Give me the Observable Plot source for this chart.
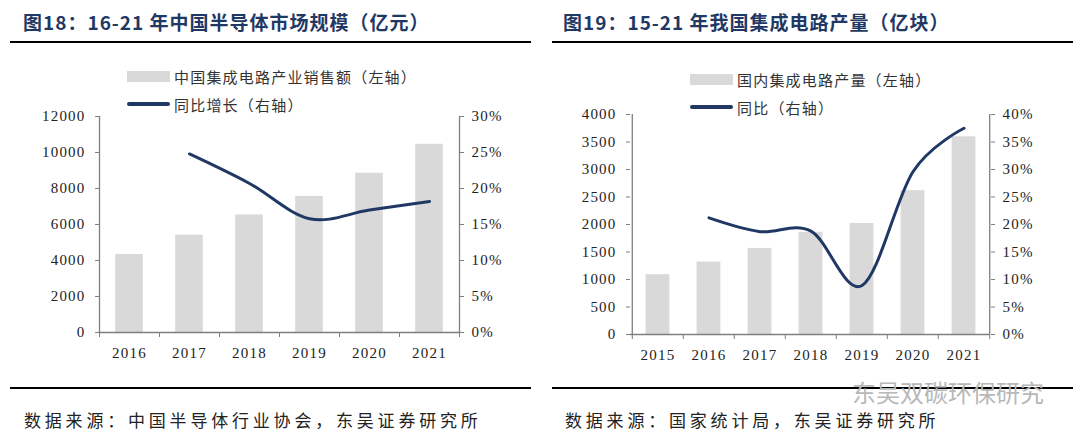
<!DOCTYPE html>
<html><head><meta charset="utf-8">
<script src="https://cdn.jsdelivr.net/npm/d3@7"></script>
<script src="https://cdn.jsdelivr.net/npm/@observablehq/plot@0.6"></script>
<style>
body{margin:0;background:#fff;}
#wrap{position:relative;width:1080px;height:441px;overflow:hidden;font-family:"Noto Sans CJK SC",sans-serif;}
.title{position:absolute;top:8px;font-size:19px;font-weight:bold;color:#1f3864;letter-spacing:1px;white-space:nowrap;}
.rule{position:absolute;height:2px;background:#000;width:521px;}
.legend{position:absolute;top:62px;font-size:15px;color:#333;letter-spacing:1.2px;white-space:nowrap;}
.legend .row{display:flex;align-items:center;height:28px;}
.sw-bar{width:43px;height:11px;background:#d9d9d9;margin-right:4px;}
.sw-line{width:43px;height:4px;background:#1f3864;border-radius:2px;margin-right:4px;}
.chart{position:absolute;top:100px;}
.chart svg, .chart svg text{font-family:"Liberation Serif","Times New Roman",serif !important;font-size:15px !important;}
.chart svg text{letter-spacing:1.2px;}
.footer{position:absolute;top:407px;font-size:17px;letter-spacing:3.8px;color:#222;white-space:nowrap;}
.wm{position:absolute;left:852px;top:374px;font-size:24px;color:#b8b8b8;white-space:nowrap;}
</style></head>
<body>
<div id="wrap">
  <div class="title" style="left:23px">图18：16-21 年中国半导体市场规模（亿元）</div>
  <div class="rule" style="left:10px;top:41px"></div>
  <div class="title" style="left:563px">图19：15-21 年我国集成电路产量（亿块）</div>
  <div class="rule" style="left:552px;top:41px"></div>
  <div class="legend" style="left:127px">
    <div class="row"><div class="sw-bar"></div><span id="lg1a"></span></div>
    <div class="row"><div class="sw-line"></div><span id="lg1b"></span></div>
  </div>
  <div class="legend" style="left:690px;top:65px">
    <div class="row"><div class="sw-bar"></div><span id="lg2a"></span></div>
    <div class="row"><div class="sw-line"></div><span id="lg2b"></span></div>
  </div>
  <div class="chart" id="c1" style="left:0px"></div>
  <div class="chart" id="c2" style="left:540px"></div>
  <div class="rule" style="left:10px;top:387px"></div>
  <div class="rule" style="left:552px;top:387px"></div>
  <div class="footer" style="left:24px">数据来源：中国半导体行业协会，东吴证券研究所</div>
  <div class="footer" style="left:565px">数据来源：国家统计局，东吴证券研究所</div>
  <div class="wm">东吴双碳环保研究</div>
</div>
<script>
// Chart 1: China semiconductor market size
const years1 = ["2016","2017","2018","2019","2020","2021"];
const sales1 = [4336, 5411, 6532, 7562, 8848, 10458];
const growth1 = [null, 24.8, 20.7, 15.8, 17.0, 18.2];
const yTicks1 = [0, 2000, 4000, 6000, 8000, 10000, 12000];
const pctTicks1 = [0, 5, 10, 15, 20, 25, 30];
const legend1 = ["中国集成电路产业销售额（左轴）", "同比增长（右轴）"];

// Chart 2: China IC output
const years2 = ["2015","2016","2017","2018","2019","2020","2021"];
const output2 = [1087, 1318, 1565, 1858, 2018, 2615, 3594];
const growth2 = [null, 21.2, 18.7, 18.8, 8.9, 29.6, 37.5];
const yTicks2 = [0, 500, 1000, 1500, 2000, 2500, 3000, 3500, 4000];
const pctTicks2 = [0, 5, 10, 15, 20, 25, 30, 35, 40];
const legend2 = ["国内集成电路产量（左轴）", "同比（右轴）"];

document.getElementById("lg1a").textContent = legend1[0];
document.getElementById("lg1b").textContent = legend1[1];
document.getElementById("lg2a").textContent = legend2[0];
document.getElementById("lg2b").textContent = legend2[1];

const GRAY = "#7f7f7f";

function makeChart({years, values, growth, yTicks, pctTicks, marginLeft, marginRight, marginTop, marginBottom, insetFrac}) {
  const W = 540, H = 270;
  const yMax = yTicks[yTicks.length - 1];
  const pMax = pctTicks[pctTicks.length - 1];
  const k = yMax / pMax;
  const bw = (W - marginLeft - marginRight) / years.length;
  const bars = years.map((y, i) => ({year: y, value: values[i]}));
  const line = years.map((y, i) => ({year: y, g: growth[i]})).filter(d => d.g != null);
  const first = years[0], last = years[years.length - 1];
  return Plot.plot({
    width: W, height: H, marginLeft, marginRight, marginTop, marginBottom,
    style: {fontFamily: "'Liberation Serif', serif", fontSize: "15px", color: "#222", background: "transparent"},
    x: {type: "band", domain: years, padding: 0, label: null},
    y: {domain: [0, yMax], label: null},
    marks: [
      Plot.barY(bars, {x: "year", y: "value", fill: "#d9d9d9", insetLeft: bw * insetFrac, insetRight: bw * insetFrac}),
      Plot.ruleY([0], {stroke: GRAY, strokeWidth: 1.3}),
      Plot.ruleX(years, {x: d => d, y1: 0, y2: 0, insetBottom: -5, dx: -bw / 2, stroke: GRAY}),
      Plot.ruleX([last], {x: d => d, y1: 0, y2: 0, insetBottom: -5, dx: bw / 2, stroke: GRAY}),
      Plot.ruleX([first], {x: d => d, y1: 0, y2: yMax, dx: -bw / 2, stroke: GRAY, strokeWidth: 1.3}),
      Plot.ruleX([last], {x: d => d, y1: 0, y2: yMax, dx: bw / 2, stroke: GRAY, strokeWidth: 1.3}),
      Plot.axisY({ticks: yTicks, anchor: "left", tickSize: 4, tickPadding: 10, stroke: GRAY, label: null,
                  tickFormat: d => String(d)}),
      Plot.axisY({ticks: pctTicks.map(v => v * k), anchor: "right", tickSize: 4, tickPadding: 8, stroke: GRAY, label: null,
                  tickFormat: d => Math.round(d / k) + "%"}),
      Plot.axisX({tickSize: 0, tickPadding: 15, label: null}),
      Plot.line(line, {x: "year", y: d => d.g * k, stroke: "#1f3864", strokeWidth: 3, curve: "cardinal"})
    ]
  });
}

document.getElementById("c1").append(makeChart({
  years: years1, values: sales1, growth: growth1, yTicks: yTicks1, pctTicks: pctTicks1,
  marginLeft: 99, marginRight: 81, marginTop: 16, marginBottom: 38, insetFrac: 0.27
}));
document.getElementById("c2").append(makeChart({
  years: years2, values: output2, growth: growth2, yTicks: yTicks2, pctTicks: pctTicks2,
  marginLeft: 90, marginRight: 90, marginTop: 14, marginBottom: 36, insetFrac: 0.265
}));
</script>
</body></html>
